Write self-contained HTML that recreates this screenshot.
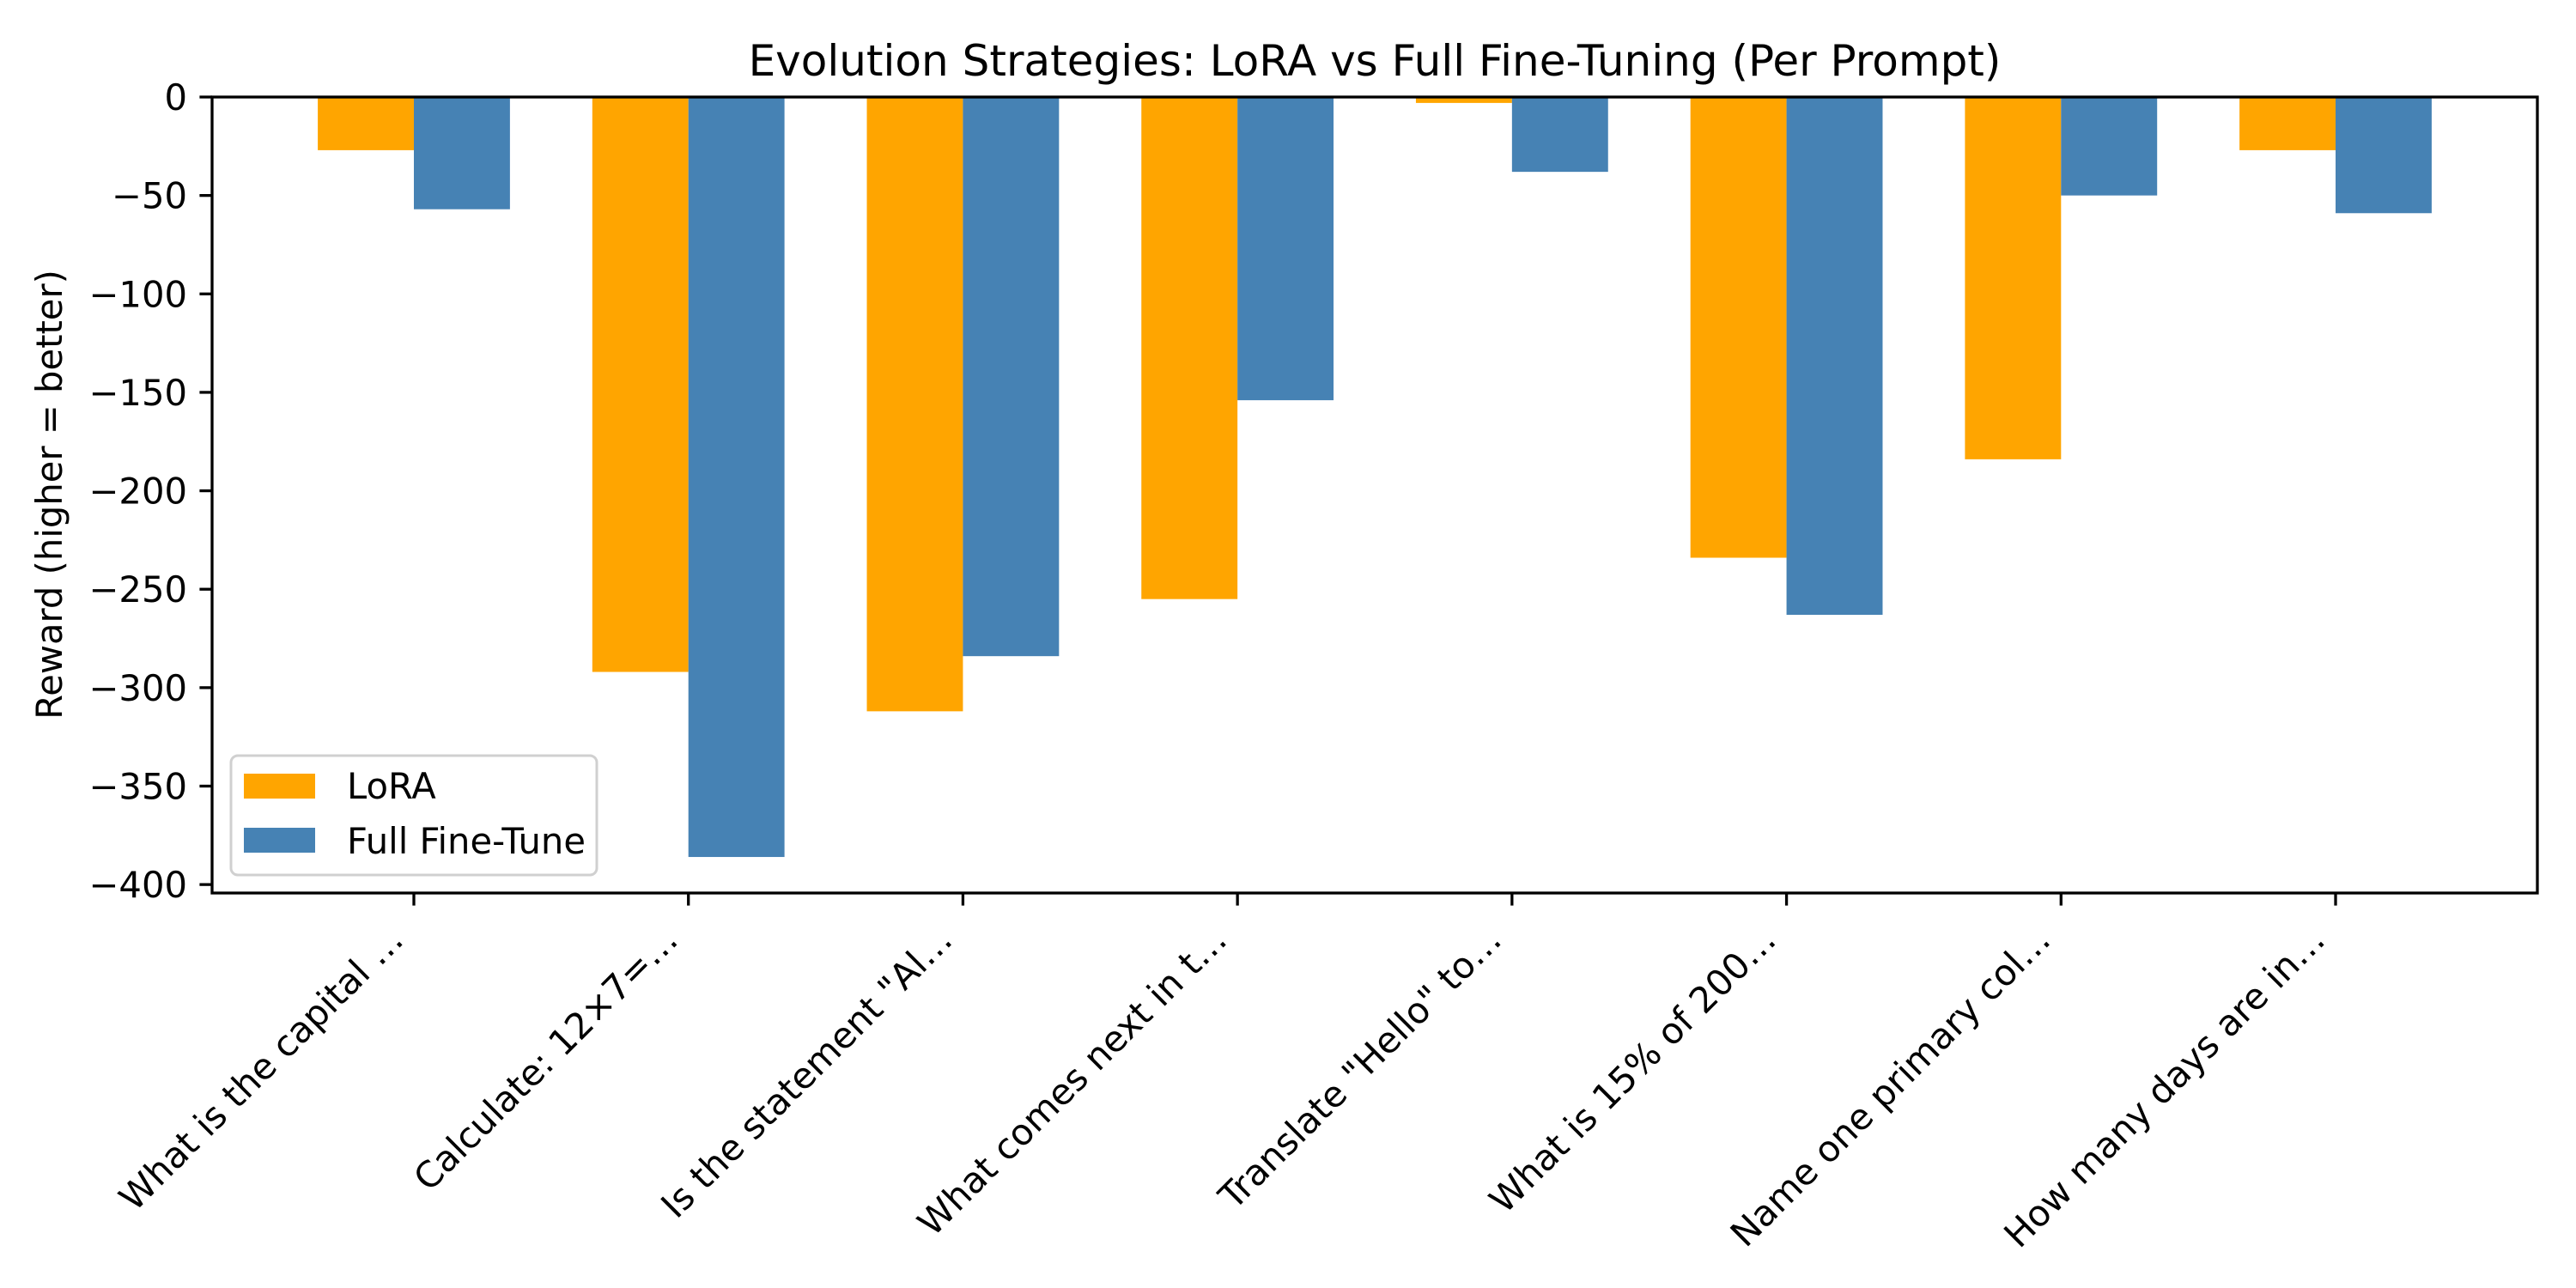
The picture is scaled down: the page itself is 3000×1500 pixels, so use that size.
<!DOCTYPE html>
<html><head><meta charset="utf-8"><style>
html,body{margin:0;padding:0;background:#fff;}
svg{display:block;font-family:"DejaVu Sans","Liberation Sans",sans-serif;}
</style></head><body>
<svg id="chart" width="3000" height="1500" viewBox="0 0 3000 1500" xmlns="http://www.w3.org/2000/svg">
<rect x="0" y="0" width="3000" height="1500" fill="#fff"/>
<text x="1601" y="88" font-size="50" text-anchor="middle">Evolution Strategies: LoRA vs Full Fine-Tuning (Per Prompt)</text>
<text transform="translate(72,576) rotate(-90)" font-size="41.7" text-anchor="middle">Reward (higher = better)</text>
<g id="bars"></g>
<g id="axes"></g>
<g id="legend">
  <rect x="269" y="880" width="426" height="139" rx="8" fill="#fff" fill-opacity="0.8" stroke="#d0d0d0" stroke-width="3"/>
  <rect x="284" y="901" width="83" height="29" fill="#FFA500"/>
  <text x="404" y="930" font-size="41.7">LoRA</text>
  <rect x="284" y="964" width="83" height="29" fill="#4682B4"/>
  <text x="404" y="994" font-size="41.7">Full Fine-Tune</text>
</g>
</svg>
<script>
const categories = ['What is the capital …','Calculate: 12×7=…','Is the statement "Al…','What comes next in t…','Translate "Hello" to…','What is 15% of 200…','Name one primary col…','How many days are in…'];
const loraValues = [-27, -292, -312, -255, -3, -234, -184, -27];
const fullValues = [-57, -386, -284, -154, -38, -263, -50, -59];
const yTicks = [0, -50, -100, -150, -200, -250, -300, -350, -400];

const NS = 'http://www.w3.org/2000/svg';
const L = 247, R = 2955, T = 113, B = 1040;
const xMin = -0.735, xMax = 7.735, yMin = -404.3, yMax = 0;
const bw = 0.35;
function xs(v){ return L + (v - xMin) / (xMax - xMin) * (R - L); }
function ys(v){ return T + (yMax - v) / (yMax - yMin) * (B - T); }
function mk(tag, attrs){ const e = document.createElementNS(NS, tag); for (const k in attrs) e.setAttribute(k, attrs[k]); return e; }

const bars = document.getElementById('bars');
categories.forEach((c, i) => {
  const series = [[loraValues[i], i - bw/2, '#FFA500', 'bar-lora'], [fullValues[i], i + bw/2, '#4682B4', 'bar-full']];
  series.forEach(s => {
    const y0 = ys(0), y1 = ys(s[0]);
    const r = mk('rect', {x: xs(s[1] - bw/2), y: Math.min(y0, y1), width: xs(s[1] + bw/2) - xs(s[1] - bw/2), height: Math.abs(y1 - y0), fill: s[2]});
    
    
    bars.appendChild(r);
  });
});

const axes = document.getElementById('axes');
const frame = mk('rect', {x: L, y: T, width: R - L, height: B - T, fill: 'none', stroke: '#000', 'stroke-width': 3.3});


axes.appendChild(frame);

yTicks.forEach(t => {
  const y = ys(t);
  const tk = mk('line', {x1: L - 14.6, x2: L, y1: y, y2: y, stroke: '#000', 'stroke-width': 3.3});
  
  
  axes.appendChild(tk);
  const lb = mk('text', {x: L - 29, y: y + 15, 'font-size': 41.7, 'text-anchor': 'end'});
  lb.textContent = t < 0 ? '\u2212' + Math.abs(t) : String(t);
  
  
  axes.appendChild(lb);
});

categories.forEach((c, i) => {
  const x = xs(i);
  const tk = mk('line', {x1: x, x2: x, y1: B, y2: B + 14.6, stroke: '#000', 'stroke-width': 3.3});
  
  
  axes.appendChild(tk);
  const ax = x - 10, ay = 1097;
  const lb = mk('text', {x: ax, y: ay, 'font-size': 41.7, 'text-anchor': 'end', transform: 'rotate(-45 ' + ax + ' ' + ay + ')'});
  lb.textContent = c;
  
  
  axes.appendChild(lb);
});
</script>
</body></html>
